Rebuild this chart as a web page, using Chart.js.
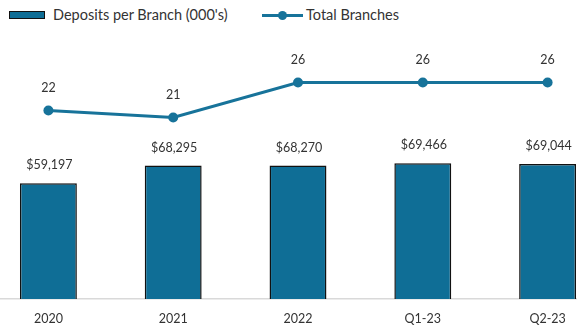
<!DOCTYPE html>
<html>
<head>
<meta charset="utf-8">
<script src="https://cdn.jsdelivr.net/npm/chart.js@4/dist/chart.umd.min.js"></script>
<style>
  html, body { margin: 0; padding: 0; background: #fff; }
  body { width: 577px; height: 331px; overflow: hidden; position: relative; font-family: Lato, "Open Sans", sans-serif; color: #333; }
  #wrap { position: absolute; left: -19px; top: 0; width: 634px; height: 331px; }
  .legend { position: absolute; top: 0; height: 30px; font-size: 14.5px; line-height: 30px; color: #333; }
  .swatch-bar { position: absolute; left: 9px; top: 11px; width: 34px; height: 6px; background: #0f6e96; border: 1.5px solid #111; }
  .swatch-line { position: absolute; left: 262px; top: 14px; width: 41px; height: 3px; background: #17739a; }
  .swatch-dot { position: absolute; left: 278px; top: 11px; width: 9px; height: 9px; border-radius: 50%; background: #17739a; }
</style>
</head>
<body>
<div class="swatch-bar"></div>
<div class="legend" style="left:53px">Deposits per Branch (000's)</div>
<div class="swatch-line"></div>
<div class="swatch-dot"></div>
<div class="legend" style="left:306px">Total Branches</div>
<div id="wrap"><canvas id="c" width="634" height="331"></canvas></div>
<script>
// Periods on the category axis
const periods = ['2020', '2021', '2022', 'Q1-23', 'Q2-23'];
// Average deposits per branch, in thousands of dollars
const depositsPerBranch = [59197, 68295, 68270, 69466, 69044];
// Number of branches at period end
const totalBranches = [22, 21, 26, 26, 26];

const BAR_COLOR = '#0f6e96';
const LINE_COLOR = '#17739a';
const TEXT_COLOR = '#333333';
const FONT = 'Lato, "Open Sans", sans-serif';

// Writes each point's value above its bar or marker
const valueLabels = {
  id: 'valueLabels',
  afterDatasetsDraw(chart) {
    const ctx = chart.ctx;
    ctx.save();
    ctx.fillStyle = TEXT_COLOR;
    ctx.textAlign = 'center';
    ctx.textBaseline = 'middle';
    chart.data.datasets.forEach((ds, i) => {
      const meta = chart.getDatasetMeta(i);
      meta.data.forEach((el, j) => {
        const v = ds.data[j];
        ctx.font = '12.5px ' + FONT;
        if (ds.type === 'bar') {
          ctx.fillText('$' + v.toLocaleString('en-US'), el.x + 1, el.y - 18);
        } else {
          ctx.fillText(String(v), el.x, el.y - 23);
        }
      });
    });
    ctx.restore();
  }
};

new Chart(document.getElementById('c'), {
  data: {
    labels: periods,
    datasets: [
      {
        type: 'line',
        label: 'Total Branches',
        data: totalBranches,
        yAxisID: 'yBranches',
        borderColor: LINE_COLOR,
        backgroundColor: LINE_COLOR,
        borderWidth: 3,
        pointRadius: 5,
        pointBackgroundColor: LINE_COLOR,
        pointBorderWidth: 0,
        tension: 0,
        order: 0
      },
      {
        type: 'bar',
        label: "Deposits per Branch (000's)",
        data: depositsPerBranch,
        yAxisID: 'yDeposits',
        backgroundColor: BAR_COLOR,
        borderColor: '#111111',
        borderWidth: 1.5,
        barPercentage: 0.456,
        categoryPercentage: 1,
        order: 1
      }
    ]
  },
  options: {
    responsive: false,
    animation: false,
    events: [],
    layout: { padding: { top: 40, left: 0, right: 0, bottom: 0 } },
    plugins: { legend: { display: false }, tooltip: { enabled: false } },
    scales: {
      x: {
        grid: { display: false, drawTicks: false },
        border: { display: true, color: '#d9d9d9', width: 1.5 },
        ticks: { color: TEXT_COLOR, font: { family: FONT, size: 12.5 }, padding: 12 },
        afterFit(scale) { scale.height = 32; }
      },
      yDeposits: { display: false, min: 0, max: 132500 },
      yBranches: { display: false, min: -4.93, max: 32.07 }
    }
  },
  plugins: [valueLabels]
});
</script>
</body>
</html>
